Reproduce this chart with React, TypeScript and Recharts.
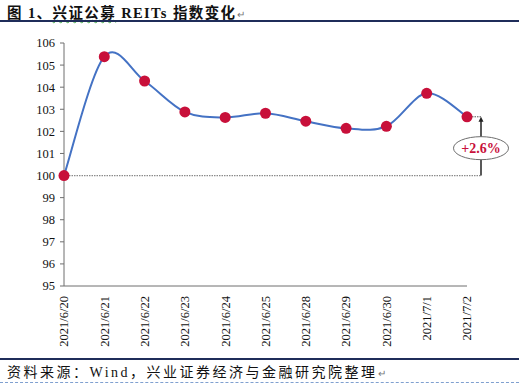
import { LineChart, Line, XAxis, YAxis, ReferenceLine } from "recharts";

const dates = [
  "2021/6/20",
  "2021/6/21",
  "2021/6/22",
  "2021/6/23",
  "2021/6/24",
  "2021/6/25",
  "2021/6/28",
  "2021/6/29",
  "2021/6/30",
  "2021/7/1",
  "2021/7/2",
];
const indexValues = [100, 105.38, 104.28, 102.88, 102.63, 102.82, 102.46, 102.14, 102.23, 103.72, 102.66];
const yTicks = [95, 96, 97, 98, 99, 100, 101, 102, 103, 104, 105, 106];
const changeLabel = "+2.6%";

const data = dates.map((date, i) => ({ date, value: indexValues[i] }));

const SERIF = '"Times New Roman", "Liberation Serif", "Noto Sans CJK SC", serif';
const AXIS = "#6e6e6e";
const RED = "#C8103A";

// Excel-style smoothed line (Catmull-Rom through the points)
const excelSmooth = (context: any) => {
  let pts: number[][] = [];
  return {
    areaStart() {},
    areaEnd() {},
    lineStart() {
      pts = [];
    },
    point(x: number, y: number) {
      pts.push([+x, +y]);
    },
    lineEnd() {
      const n = pts.length;
      if (!n) return;
      context.moveTo(pts[0][0], pts[0][1]);
      for (let i = 0; i < n - 1; i++) {
        const p0 = pts[Math.max(i - 1, 0)];
        const p1 = pts[i];
        const p2 = pts[i + 1];
        const p3 = pts[Math.min(i + 2, n - 1)];
        context.bezierCurveTo(
          p1[0] + (p2[0] - p0[0]) / 6,
          p1[1] + (p2[1] - p0[1]) / 6,
          p2[0] - (p3[0] - p1[0]) / 6,
          p2[1] - (p3[1] - p1[1]) / 6,
          p2[0],
          p2[1]
        );
      }
    },
  };
};

const GAP = 14;

const BaseLine = (props: any) => (
  <line
    x1={props.x1}
    y1={props.y1}
    x2={props.x2 + GAP}
    y2={props.y2}
    stroke="#8c8c8c"
    strokeWidth={1.2}
    strokeDasharray="1.5 1"
  />
);

const ChangeMarker = (props: any) => {
  const x = props.x1 + GAP;
  const yBottom = Math.max(props.y1, props.y2);
  const yTop = Math.min(props.y1, props.y2);
  const cy = (yBottom + yTop) / 2 + 2;
  return (
    <g>
      <line x1={props.x1} y1={yTop} x2={x} y2={yTop} stroke="#555" strokeWidth={1} strokeDasharray="1.5 1" />
      <line x1={x} y1={yBottom} x2={x} y2={yTop + 4} stroke="#222" strokeWidth={1.5} />
      <polygon points={`${x},${yTop} ${x - 2.5},${yTop + 5} ${x + 2.5},${yTop + 5}`} fill="#222" />
      <ellipse cx={x} cy={cy} rx={27.5} ry={11.5} fill="#fff" stroke="#6e6e6e" strokeWidth={1} />
      <text
        x={x}
        y={cy}
        dy="0.35em"
        textAnchor="middle"
        fill={RED}
        fontFamily={SERIF}
        fontWeight="bold"
        fontSize={14}
      >
        {changeLabel}
      </text>
    </g>
  );
};

const DateTick = (props: any) => {
  const { x, y, payload } = props;
  return (
    <text
      transform={`translate(${x},${y + 2}) rotate(-90)`}
      textAnchor="end"
      dy="0.35em"
      fontFamily={SERIF}
      fontSize={12.5}
      fill="#111"
    >
      {payload.value}
    </text>
  );
};

export default function App() {
  return (
    <div
      style={{
        position: "absolute",
        left: 0,
        top: 0,
        width: 519,
        height: 385,
        background: "#fff",
        fontFamily: SERIF,
        overflow: "hidden",
      }}
    >
      <div
        style={{
          position: "absolute",
          left: 7,
          top: 1,
          fontSize: 14.5,
          fontWeight: "bold",
          color: "#111",
          whiteSpace: "nowrap",
          letterSpacing: 1.4,
        }}
      >
        图 1、
        <span style={{ textDecoration: "underline wavy #4caf50", textDecorationThickness: 1 }}>兴证公募</span>
        {" "}REITs 指数变化<span style={{ fontWeight: "normal", fontSize: 10, color: "#777" }}>↵</span>
      </div>
      <div style={{ position: "absolute", left: 0, top: 20, width: 519, height: 1.5, background: "#1f2d5a" }} />

      <div style={{ position: "absolute", left: 0, top: 0 }}>
        <LineChart width={519} height={355} data={data} margin={{ top: 43, right: 52, bottom: 14, left: 0 }}>
          <XAxis
            dataKey="date"
            interval={0}
            tickLine={false}
            height={55}
            stroke={AXIS}
            tick={<DateTick />}
            padding={{ left: 0, right: 0 }}
            scale="point"
          />
          <YAxis
            domain={[95, 106]}
            ticks={yTicks}
            interval={0}
            width={64}
            stroke={AXIS}
            tickSize={4}
            tickMargin={5}
            tick={{ fill: "#111", fontFamily: SERIF, fontSize: 12.5 }}
          />
          <ReferenceLine
            segment={[
              { x: dates[0], y: 100 },
              { x: dates[dates.length - 1], y: 100 },
            ]}
            ifOverflow="visible"
            shape={<BaseLine />}
          />
          <ReferenceLine
            segment={[
              { x: dates[dates.length - 1], y: 100 },
              { x: dates[dates.length - 1], y: indexValues[indexValues.length - 1] },
            ]}
            ifOverflow="visible"
            shape={<ChangeMarker />}
          />
          <Line
            type={excelSmooth as any}
            dataKey="value"
            stroke="#4472C4"
            strokeWidth={2}
            dot={{ r: 5.5, fill: RED, stroke: RED, strokeWidth: 0 }}
            isAnimationActive={false}
          />
        </LineChart>
      </div>

      <div style={{ position: "absolute", left: 0, top: 358, width: 519, height: 1.5, background: "#1f2d5a" }} />
      <div
        style={{
          position: "absolute",
          left: 7,
          top: 361,
          fontSize: 14,
          color: "#111",
          whiteSpace: "nowrap",
          letterSpacing: 2.5,
        }}
      >
        资料来源：Wind，兴业证券经济与金融研究院整理<span style={{ fontSize: 10, color: "#777" }}>↵</span>
      </div>
      <div style={{ position: "absolute", left: 0, top: 382, width: 519, borderTop: "1px dashed #7fa0d0" }} />
    </div>
  );
}
